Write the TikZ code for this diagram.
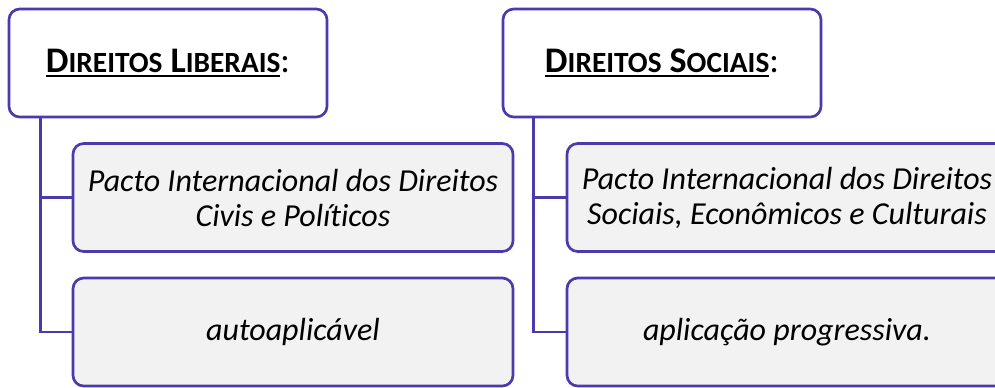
\documentclass[tikz,border=0pt]{standalone}
\usepackage{fontspec}
\setmainfont{Carlito}[Ligatures=NoCommon]
\usepackage{tikz}

\definecolor{boxline}{RGB}{74,58,172}
\definecolor{boxfill}{RGB}{242,242,242}

% fake small caps: first letter large, rest smaller
\newcommand{\headsc}[2]{#1{\fontsize{22}{26}\selectfont #2}}
% thick underline
\newcommand{\headul}[1]{\setbox0\hbox{#1}\rlap{\rule[-3.5pt]{\wd0}{1.6pt}}\box0}

\tikzset{
  headbox/.style={draw=boxline, line width=2pt, fill=white, rounded corners=8pt,
    minimum width=318*0.75pt, minimum height=108*0.75pt, inner sep=0pt,
    font=\fontsize{27}{30}\selectfont},
  itembox/.style={draw=boxline, line width=2pt, fill=boxfill, rounded corners=8pt,
    minimum width=440*0.75pt, minimum height=108*0.75pt, inner sep=0pt,
    align=center, font=\fontsize{24}{26.25}\selectfont\itshape},
  branch/.style={draw=boxline, line width=2pt}
}

\begin{document}
\begin{tikzpicture}[x=0.75pt, y=-0.75pt]
    \useasboundingbox (0,0) rectangle (995,387);

    % liberal rights
    \node [headbox] (libhead) at (168, 63)
      {\headul{\textbf{\headsc{D}{IREITOS} \headsc{L}{IBERAIS}}}:};
    \node [itembox] (libpacto) at (293, 197.5)
      {Pacto Internacional dos Direitos\\Civis e Políticos};
    \node [itembox] (libauto) at (293, 332) {autoaplicável};

    % social rights
    \node [headbox] (sochead) at (662, 63)
      {\headul{\textbf{\headsc{D}{IREITOS} \headsc{S}{OCIAIS}}}:};
    \node [itembox] (socpacto) at (787, 197.5)
      {Pacto Internacional dos Direitos\\Sociais, Econômicos e Culturais};
    \node [itembox] (socprog) at (787, 332) {aplicação progressiva.};

    \coordinate (libroot) at ([xshift=24.75pt]libhead.south west);
    \coordinate (socroot) at ([xshift=24pt]sochead.south west);

    \draw [branch] (libroot) |- (libpacto.west);
    \draw [branch] (libroot) |- (libauto.west);
    \draw [branch] (socroot) |- (socpacto.west);
    \draw [branch] (socroot) |- (socprog.west);
  \end{tikzpicture}
\end{document}
